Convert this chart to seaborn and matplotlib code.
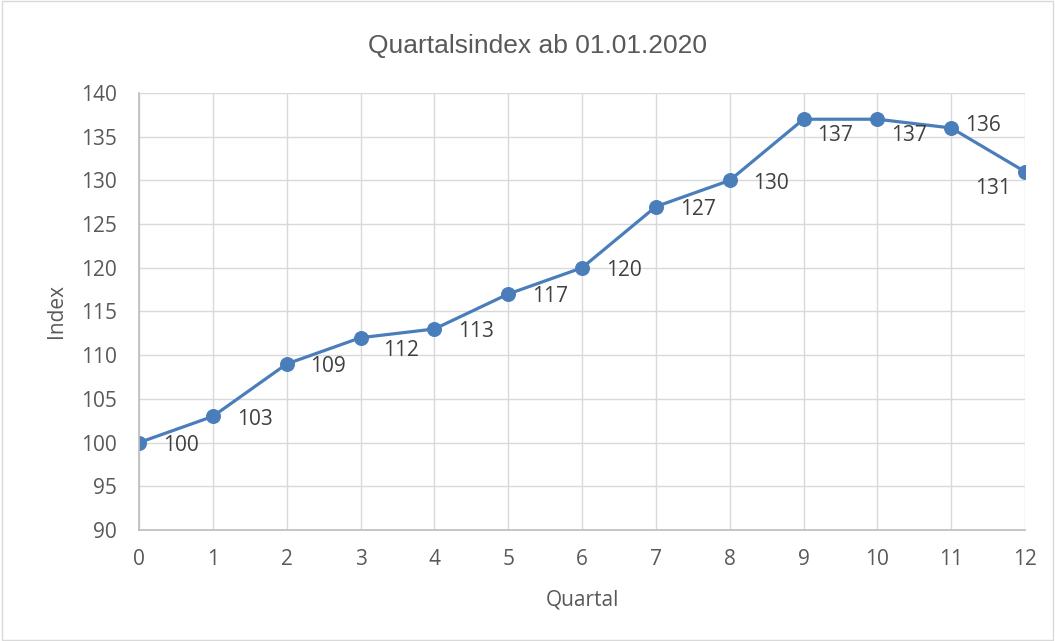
import matplotlib
matplotlib.use("Agg")
import matplotlib.pyplot as plt
import seaborn as sns
import pandas as pd

# data
quartal = [0, 1, 2, 3, 4, 5, 6, 7, 8, 9, 10, 11, 12]
index_werte = [100, 103, 109, 112, 113, 117, 120, 127, 130, 137, 137, 136, 131]
y_ticks = [90, 95, 100, 105, 110, 115, 120, 125, 130, 135, 140]

df = pd.DataFrame({"Quartal": quartal, "Index": index_werte})

sns.set_theme(style="white")
plt.rcParams['font.family'] = ['Open Sans', 'DejaVu Sans']

fig = plt.figure(figsize=(10.55, 6.41), dpi=100)
ax = fig.add_axes([0.1318, 0.1732, 0.8398, 0.6817])

line_col = "#4a7ebb"
sns.lineplot(data=df, x="Quartal", y="Index", ax=ax, color=line_col,
             linewidth=2.3, marker="o", markersize=10, markeredgecolor=line_col)

# data label offsets in points (excel places them a bit differently per point)
offsets = {3: (29, -9), 9: (23, -12), 10: (23, -12), 11: (23, 2), 12: (-23, -12)}
for q, v in zip(quartal, index_werte):
    dx, dy = offsets.get(q, (30, -2))
    ax.annotate(str(v), (q, v), xytext=(dx, dy), textcoords="offset points",
                fontsize=15, color="#404040", ha="center", va="center")

ax.set_xlim(0, 12)
ax.set_ylim(90, 140)
ax.set_xticks(quartal)
ax.set_yticks(y_ticks)
ax.grid(True, color="#d9d9d9", linewidth=1)
ax.set_axisbelow(True)
for s in ["top", "right"]:
    ax.spines[s].set_visible(False)
ax.spines["bottom"].set_color("#bfbfbf")
ax.spines["left"].set_color("#bfbfbf")
ax.tick_params(axis="both", labelsize=15, colors="#595959", length=0)
ax.tick_params(axis="x", pad=14)
ax.tick_params(axis="y", pad=16)

ax.set_xlabel("Quartal", fontsize=15, color="#595959", labelpad=14)
ax.set_ylabel("Index", fontsize=15, color="#595959", labelpad=10)
fig.text(0.5095, 0.928, "Quartalsindex ab 01.01.2020", ha="center", va="center",
         fontsize=19, color="#595959", family=['Liberation Sans', 'DejaVu Sans'])

# thin frame around the whole chart
fig.patches.append(plt.Rectangle((0.002, 0.002), 0.996, 0.996, transform=fig.transFigure,
                                 fill=False, edgecolor="#d9d9d9", linewidth=1))

fig.savefig("out.png", dpi=100)
